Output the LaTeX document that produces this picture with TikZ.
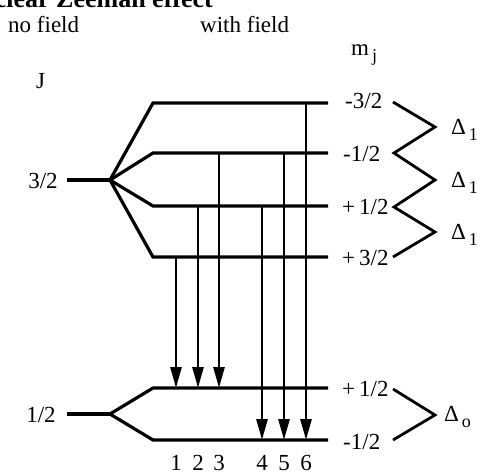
\documentclass[tikz,border=0pt]{standalone}
\usepackage{fontspec}
\setmainfont{Liberation Serif}
\usetikzlibrary{arrows.meta}
\newcommand{\lbl}{\fontsize{23}{25}\selectfont}
\newcommand{\subs}[2]{#1\hspace{3pt}{\fontsize{18}{18}\selectfont\raisebox{-6pt}{#2}}}
\newcommand{\pl}{+\hspace{4pt}}
\tikzset{
  level/.style={line width=3.2pt},
  zig/.style={line width=2.8pt, line join=miter},
  trans/.style={line width=2.7pt, -{Triangle[length=21pt,width=11pt]}},
  txt/.style={inner sep=0pt, font=\lbl},
}
\begin{document}
\begin{tikzpicture}[x=1pt,y=-1pt]
\useasboundingbox (0,0) rectangle (482,475);
\clip (0,0) rectangle (482,475);
% title and headers
\node[inner sep=0pt, anchor=base east, font=\fontsize{26}{28}\selectfont\bfseries] (title) at (213,7) {Nuclear Zeeman effect};
\node[txt, anchor=base west] (nofield) at (8,32) {no field};
\node[txt, anchor=base west] (withfield) at (200,32) {with field};
\node[txt, anchor=base west] (J) at (36,88) {J};
\node[txt, anchor=base west] (mj) at (351,55) {\subs{m}{j}};
% upper J=3/2
\node[txt] (j32) at (43,181) {3/2};
\coordinate (u0) at (67,180);
\coordinate (uf) at (110,180);
\coordinate (a1s) at (153,103); \coordinate (a1e) at (328,103);
\coordinate (a2s) at (153,153); \coordinate (a2e) at (328,153);
\coordinate (a3s) at (153,206); \coordinate (a3e) at (328,206);
\coordinate (a4s) at (153,257); \coordinate (a4e) at (328,257);
\draw[level] (u0) -- (uf);
\draw[level, line join=miter] (uf) -- (a1s) -- (a1e);
\draw[level, line join=miter] (uf) -- (a2s) -- (a2e);
\draw[level, line join=miter] (uf) -- (a3s) -- (a3e);
\draw[level, line join=miter] (uf) -- (a4s) -- (a4e);
% lower J=1/2
\node[txt] (j12) at (41,415) {1/2};
\coordinate (l0) at (67,414);
\coordinate (lf) at (110,414);
\coordinate (b1s) at (153,388); \coordinate (b1e) at (328,388);
\coordinate (b2s) at (153,440); \coordinate (b2e) at (328,440);
\draw[level] (l0) -- (lf);
\draw[level, line join=miter] (lf) -- (b1s) -- (b1e);
\draw[level, line join=miter] (lf) -- (b2s) -- (b2e);
% transitions
\foreach \n/\x/\ya/\yb in {1/176/257/388, 2/198/206/388, 3/219/153/388, 4/262/206/440, 5/284/153/440, 6/306/103/440}{
  \coordinate (t\n a) at (\x,\ya);
  \coordinate (t\n b) at (\x,\yb);
  \draw[trans] (t\n a) -- (t\n b);
  \node[txt] (n\n) at (\x,463) {\n};
}
% m_j labels
\node[txt, anchor=west] (m1) at (345,101) {-3/2};
\node[txt, anchor=west] (m2) at (343,154) {-1/2};
\node[txt, anchor=west] (m3) at (342,207) {\pl1/2};
\node[txt, anchor=west] (m4) at (342,258) {\pl3/2};
\node[txt, anchor=west] (m5) at (342,389) {\pl1/2};
\node[txt, anchor=west] (m6) at (343,442) {-1/2};
% zigzags
\coordinate (z0) at (393,102);
\coordinate (z1) at (435,127);
\coordinate (z2) at (394,153);
\coordinate (z3) at (435,180);
\coordinate (z4) at (394,207);
\coordinate (z5) at (435,232);
\coordinate (z6) at (393,257);
\draw[zig] (z0) -- (z1) -- (z2) -- (z3) -- (z4) -- (z5) -- (z6);
\coordinate (y0) at (393,389);
\coordinate (y1) at (435,415);
\coordinate (y2) at (393,440);
\draw[zig] (y0) -- (y1) -- (y2);
% Delta labels
\node[txt, anchor=west, font=\fontsize{23}{24}\selectfont] (d1) at (451,130) {\subs{Δ}{1}};
\node[txt, anchor=west, font=\fontsize{23}{24}\selectfont] (d2) at (451,183) {\subs{Δ}{1}};
\node[txt, anchor=west, font=\fontsize{23}{24}\selectfont] (d3) at (451,235) {\subs{Δ}{1}};
\node[txt, anchor=west, font=\fontsize{23}{24}\selectfont] (d4) at (444,417) {\subs{Δ}{o}};
\end{tikzpicture}
\end{document}
